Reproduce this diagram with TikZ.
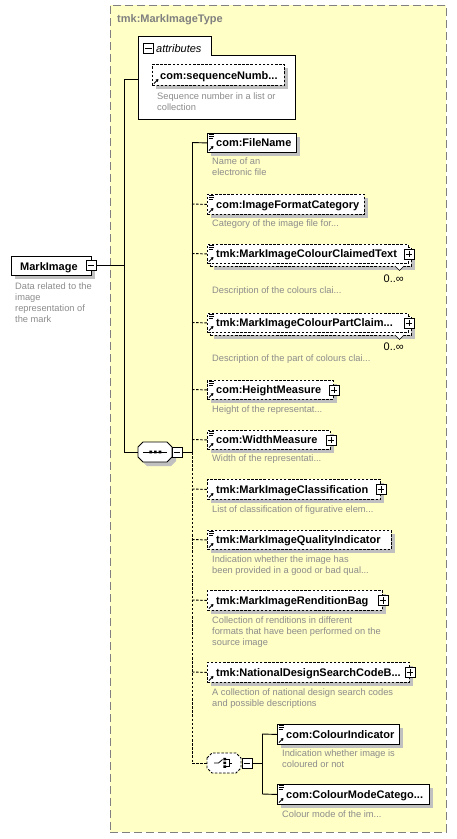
\documentclass[tikz,border=0pt]{standalone}
\usepackage{fontspec}
\setmainfont{Liberation Sans}
\usetikzlibrary{shadows,arrows.meta}
\definecolor{bgyellow}{HTML}{FFFFC6}
\definecolor{shadowgray}{HTML}{C0C0C0}
\definecolor{descgray}{HTML}{8C8C8C}
\definecolor{bordergray}{HTML}{808080}
\tikzset{
  x=1pt, y=-1pt,
  ebox/.style={draw=black, fill=white, line width=0.9pt, rectangle, inner sep=0pt, anchor=north west},
  shad/.style={general shadow={fill=shadowgray, shadow xshift=4pt, shadow yshift=-4pt}},
  optl/.style={dash pattern=on 2.5pt off 1.6pt},
  ename/.style={font=\bfseries\fontsize{11}{13}\selectfont, anchor=base west, inner sep=0pt},
  desc/.style={font=\fontsize{9.3}{11}\selectfont, text=descgray, anchor=north west, inner sep=0pt, align=left},
  pmbox/.style={draw=black, fill=white, minimum size=10pt, inner sep=0pt, line width=0.6pt},
  conn/.style={line width=0.9pt},
  mult/.style={font=\fontsize{11}{13}\selectfont, anchor=base east, inner sep=0pt},
}
% plus sign inside node #1
\newcommand\plusin[1]{\draw[line width=0.6pt] ([xshift=2pt]#1.west) -- ([xshift=-2pt]#1.east) ([yshift=-2pt]#1.north) -- ([yshift=2pt]#1.south);}
\newcommand\minusin[1]{\draw[line width=0.6pt] ([xshift=2pt]#1.west) -- ([xshift=-2pt]#1.east);}
% doc icon at top-left corner (x,y)
\newcommand\docicon[2]{\draw[line width=0.6pt] (#1+2,#2+1) -- (#1+7,#2+1) (#1+2,#2+3) -- (#1+7,#2+3) (#1+2,#2+5) -- (#1+6,#2+5);}
% reference arrow at bottom-left corner (x,y)
\newcommand\refarrow[2]{\draw[line width=0.9pt, -{Triangle[length=2.6pt,width=3pt]}] (#1+2,#2-1.5) -- (#1+6.5,#2-6);}
\begin{document}
\begin{tikzpicture}
\useasboundingbox (0,0) rectangle (457,839);
% outer type box
\node[draw=bordergray, fill=bgyellow, line width=0.8pt, dash pattern=on 8pt off 4pt, rectangle, anchor=north west, minimum width=336pt, minimum height=827pt, inner sep=0pt] (typebox) at (110,5) {};
\node[font=\bfseries\fontsize{11}{13}\selectfont, text=bordergray, anchor=base west, inner sep=0pt] (typetitle) at (117,22) {tmk:MarkImageType};

% attributes container
\draw[fill=white, line width=0.9pt] (138,119) -- (138,36) -- (211,36) -- (211,55) -- (295,55) -- (295,119) -- cycle;
\coordinate (attrw) at (138,79);
\node[pmbox, anchor=north west] (attrminus) at (143,43) {};
\minusin{attrminus}
\node[font=\itshape\fontsize{11}{13}\selectfont, anchor=base west, inner sep=0pt] (attrlbl) at (156,52) {attributes};
\node[ebox, shad, optl, minimum width=132pt, minimum height=21pt] (seqn) at (152,64) {};
\refarrow{152}{85}
\node[ename] (seqnt) at (160,79.5) {com:sequenceNumb...};
\node[desc] (seqnd) at (157,92) {\strut Sequence number in a list or\\collection};

% MarkImage root
\node[ebox, shad, minimum width=80pt, minimum height=19pt] (mi) at (11,256) {};
\node[ename] (mit) at (20,270) {MarkImage};
\node[pmbox] (miminus) at (91,265.5) {};
\minusin{miminus}
\node[desc] (mid) at (15,282) {\strut Data related to the\\image\\representation of\\the mark};

% sequence compositor
\fill[shadowgray] (142,451) -- (147,446) -- (171,446) -- (176,451) -- (176,461) -- (171,466) -- (147,466) -- (142,461) -- cycle;
\node[minimum width=34pt, minimum height=20pt, inner sep=0pt, anchor=west] (seqc) at (138,452) {};
\draw[fill=white, line width=0.9pt] (138,447) -- (143,442) -- (167,442) -- (172,447) -- (172,457) -- (167,462) -- (143,462) -- (138,457) -- cycle;
\draw[line width=0.8pt] (143,452) -- (167,452);
\fill (149.3,450.7) rectangle (152,453.4) (154,450.7) rectangle (156.7,453.4) (158.7,450.7) rectangle (161.4,453.4);
\node[pmbox] (seqminus) at (177,452) {};
\minusin{seqminus}

% bus coordinates
\coordinate (b1top) at (124,79);
\coordinate (b1mi) at (124,265.5);
\coordinate (b1seq) at (124,452);
\coordinate (b2seq) at (192,452);
\draw[conn] (attrw) -- (b1top) -- (b1seq) -- (seqc.west);
\draw[conn] (miminus.east) -- (b1mi);

% child elements
\coordinate (b2fn) at (192,142.5);
\coordinate (b2ifc) at (192,204);
\coordinate (b2cl) at (192,253.5);
\coordinate (b2pc) at (192,322.5);
\coordinate (b2hm) at (192,389.5);
\coordinate (b2wm) at (192,439.5);
\coordinate (b2mc) at (192,489);
\coordinate (b2qi) at (192,539.5);
\coordinate (b2rb) at (192,600);
\coordinate (b2nd) at (192,672);
\coordinate (b2ch) at (192,763);
\draw[conn] (seqminus.east) -- (b2seq);
\draw[conn] (b2fn) -- (b2seq);
\draw[conn, optl] (b2seq) -- (b2ch);

% FileName
\node[ebox, shad, minimum width=89pt, minimum height=19pt] (fn) at (207,133) {};
\docicon{207}{133}\refarrow{207}{152}
\node[ename] (fnt) at (216,146.5) {com:FileName};
\node[desc] (fnd) at (212,156.5) {\strut Name of an\\electronic file};
\draw[conn] (b2fn) -- (fn.west);

% ImageFormatCategory
\node[ebox, shad, optl, minimum width=157pt, minimum height=20pt] (ifc) at (207,194) {};
\docicon{207}{194}\refarrow{207}{214}
\node[ename] (ifct) at (216,208) {com:ImageFormatCategory};
\node[desc] (ifcd) at (212,218.5) {\strut Category of the image file for...};
\draw[conn, optl] (b2ifc) -- (ifc.west);

% ColourClaimedText (multiple)
\node[ebox, shad, optl, minimum width=201pt, minimum height=19pt] (clb) at (210,247) {};
\node[ebox, optl, minimum width=201pt, minimum height=19pt] (cl) at (207,244) {};
\docicon{207}{244}\refarrow{207}{263}
\node[ename] (clt) at (216,257.5) {tmk:MarkImageColourClaimedText};
\node[pmbox] (clplus) at (cl.east) {};
\plusin{clplus}
\draw[fill=white, line width=0.6pt] (395,266) -- (399.5,270.5) -- (404,266);
\node[mult] (clm) at (404,282) {0..∞};
\node[desc] (cld) at (212,285.5) {\strut Description of the colours clai...};
\draw[conn, optl] (b2cl) -- (cl.west);

% ColourPartClaimed (multiple)
\node[ebox, shad, optl, minimum width=201pt, minimum height=19pt] (pcb) at (210,316) {};
\node[ebox, optl, minimum width=201pt, minimum height=19pt] (pc) at (207,313) {};
\docicon{207}{313}\refarrow{207}{332}
\node[ename] (pct) at (216,326.5) {tmk:MarkImageColourPartClaim...};
\node[pmbox] (pcplus) at (pc.east) {};
\plusin{pcplus}
\draw[fill=white, line width=0.6pt] (395,335) -- (399.5,339.5) -- (404,335);
\node[mult] (pcm) at (404,350) {0..∞};
\node[desc] (pcd) at (212,353.5) {\strut Description of the part of colours clai...};
\draw[conn, optl] (b2pc) -- (pc.west);

% HeightMeasure
\node[ebox, shad, optl, minimum width=126pt, minimum height=19pt] (hm) at (207,380) {};
\docicon{207}{380}\refarrow{207}{399}
\node[ename] (hmt) at (216,393.5) {com:HeightMeasure};
\node[pmbox] (hmplus) at (hm.east) {};
\plusin{hmplus}
\node[desc] (hmd) at (212,404.5) {\strut Height of the representat...};
\draw[conn, optl] (b2hm) -- (hm.west);

% WidthMeasure
\node[ebox, shad, optl, minimum width=123pt, minimum height=19pt] (wm) at (207,430) {};
\docicon{207}{430}\refarrow{207}{449}
\node[ename] (wmt) at (216,443.5) {com:WidthMeasure};
\node[pmbox] (wmplus) at (wm.east) {};
\plusin{wmplus}
\node[desc] (wmd) at (212,453.5) {\strut Width of the representati...};
\draw[conn, optl] (b2wm) -- (wm.west);

% MarkImageClassification
\node[ebox, shad, optl, minimum width=173pt, minimum height=20pt] (mc) at (207,479) {};
\refarrow{207}{499}
\node[ename] (mct) at (216,493) {tmk:MarkImageClassification};
\node[pmbox] (mcplus) at (mc.east) {};
\plusin{mcplus}
\node[desc] (mcd) at (212,504.5) {\strut List of classification of figurative elem...};
\draw[conn, optl] (b2mc) -- (mc.west);

% MarkImageQualityIndicator
\node[ebox, shad, optl, minimum width=184pt, minimum height=19pt] (qi) at (207,530) {};
\docicon{207}{530}\refarrow{207}{549}
\node[ename] (qit) at (216,543.5) {tmk:MarkImageQualityIndicator};
\node[desc] (qid) at (212,554.5) {\strut Indication whether the image has\\been provided in a good or bad qual...};
\draw[conn, optl] (b2qi) -- (qi.west);

% MarkImageRenditionBag
\node[ebox, shad, optl, minimum width=175pt, minimum height=20pt] (rb) at (207,590) {};
\refarrow{207}{610}
\node[ename] (rbt) at (216,604) {tmk:MarkImageRenditionBag};
\node[pmbox] (rbplus) at (rb.east) {};
\plusin{rbplus}
\node[desc] (rbd) at (212,615.5) {\strut Collection of renditions in different\\formats that have been performed on the\\source image};
\draw[conn, optl] (b2rb) -- (rb.west);

% NationalDesignSearchCodeBag
\node[ebox, shad, optl, minimum width=202pt, minimum height=20pt] (nd) at (207,662) {};
\refarrow{207}{682}
\node[ename] (ndt) at (216,676) {tmk:NationalDesignSearchCodeB...};
\node[pmbox] (ndplus) at (nd.east) {};
\plusin{ndplus}
\node[desc] (ndd) at (212,687.5) {\strut A collection of national design search codes\\and possible descriptions};
\draw[conn, optl] (b2nd) -- (nd.west);

% choice compositor
\fill[shadowgray] (211,758) -- (216,753) -- (236,753) -- (241,758) -- (241,768) -- (236,773) -- (216,773) -- (211,768) -- cycle;
\node[minimum width=34pt, minimum height=20pt, inner sep=0pt, anchor=west] (chc) at (207,763) {};
\draw[fill=white, line width=0.9pt, optl] (207,758) -- (212,753) -- (236,753) -- (241,758) -- (241,768) -- (236,773) -- (212,773) -- (207,768) -- cycle;
\draw[line width=0.8pt] (214,763) -- (218.5,763) -- (222.5,759.5);
\fill (223.3,757.8) rectangle (226,760.3) (223.3,761.7) rectangle (226,764.2) (223.3,765.4) rectangle (226,767.9);
\draw[line width=0.8pt] (226,759) -- (229,759) -- (229,766.6) -- (226,766.6) (229,763) -- (232,763);
\node[pmbox] (chminus) at (247,763) {};
\minusin{chminus}
\draw[conn, optl] (b2ch) -- (chc.west);
\coordinate (b3top) at (262,734);
\coordinate (b3ch) at (262,763);
\coordinate (b3bot) at (262,794);
\draw[conn] (chminus.east) -- (b3ch);
\draw[conn] (b3top) -- (b3bot);

% ColourIndicator
\node[ebox, shad, minimum width=122pt, minimum height=20pt] (ci) at (277,724) {};
\docicon{277}{724}\refarrow{277}{744}
\node[ename] (cit) at (286,738) {com:ColourIndicator};
\node[desc] (cid) at (282,748.5) {\strut Indication whether image is\\coloured or not};
\draw[conn] (b3top) -- (ci.west);

% ColourModeCategory
\node[ebox, shad, minimum width=152pt, minimum height=20pt] (cm) at (277,784) {};
\docicon{277}{784}\refarrow{277}{804}
\node[ename] (cmt) at (286,798) {com:ColourModeCatego...};
\node[desc] (cmd) at (282,809.5) {\strut Colour mode of the im...};
\draw[conn] (b3bot) -- (cm.west);
\end{tikzpicture}
\end{document}
